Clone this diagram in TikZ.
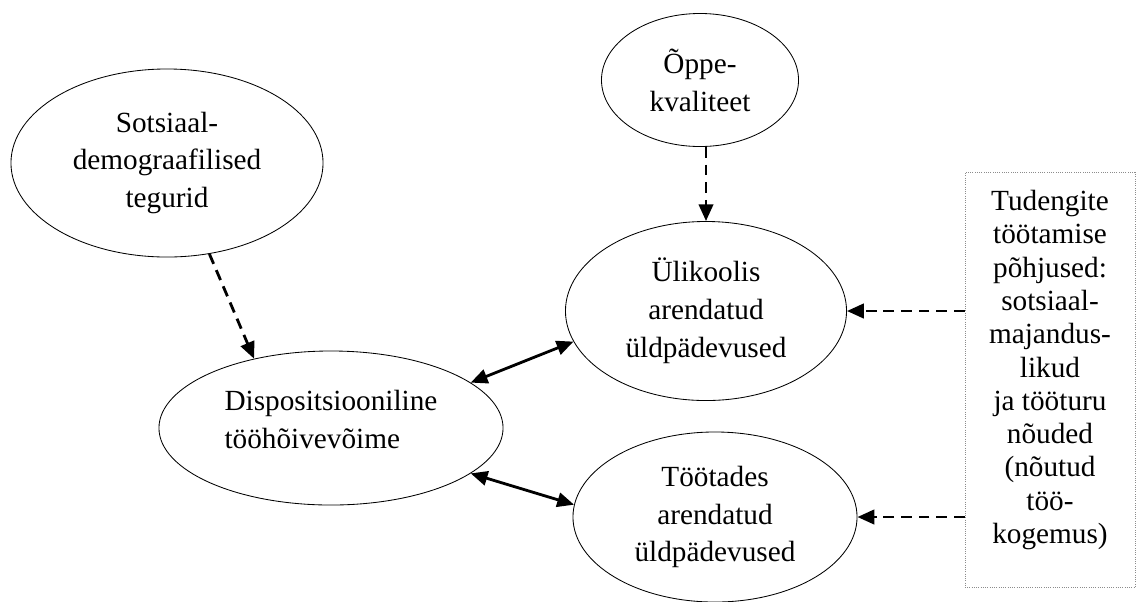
\documentclass[tikz,border=0pt]{standalone}
\usepackage{fontspec}
\setmainfont{Liberation Serif}
\usetikzlibrary{positioning,shapes.geometric,arrows.meta}
\definecolor{boxgray}{RGB}{140,140,140}

\begin{document}
\begin{tikzpicture}[
    x=0.025cm, y=-0.025cm,
    factor/.style={draw, ellipse, line width=0.6pt, inner sep=0pt, align=center,
        font=\fontsize{20.8}{26.9}\selectfont},
    reasonbox/.style={draw=boxgray, densely dotted, line width=0.6pt,
        minimum width=4.25cm, minimum height=10.375cm},
    reasontext/.style={align=center, inner sep=0pt,
        font=\fontsize{20.8}{23.7}\selectfont},
    influence/.style={line width=2pt, dash pattern=on 0.27cm off 0.17cm,
        -{Triangle[length=0.42cm,width=0.36cm]}},
    mutual/.style={line width=2pt,
        {Triangle[length=0.42cm,width=0.36cm]}-{Triangle[length=0.42cm,width=0.36cm]}}
]
\useasboundingbox (0,0) rectangle (1143,601);

% factors
\node[factor, minimum width=7.8cm, minimum height=4.7cm] (sotsiaal) at (167,163)
    {Sotsiaal-\\demograafilised\\tegurid};
\node[factor, minimum width=4.925cm, minimum height=3.325cm] (oppe) at (700,80)
    {Õppe-\\kvaliteet};
\node[factor, minimum width=8.6cm, minimum height=3.85cm, align=left] (disp) at (331,428)
    {Dispositsiooniline\\tööhõivevõime\\[-0.5cm]\mbox{}};
\node[factor, minimum width=7.025cm, minimum height=4.475cm] (ulikool) at (706,311)
    {Ülikoolis\\arendatud\\üldpädevused};
\node[factor, minimum width=7.1cm, minimum height=4.25cm] (tootades) at (715,517)
    {Töötades\\arendatud\\üldpädevused};

% reasons
\node[reasonbox] (reasons) at (1050,380) {};
\node[reasontext] (reasonstext) at (1050,370)
    {Tudengite\\töötamise\\põhjused:\\sotsiaal-\\majandus-\\likud\\ja tööturu\\nõuded\\(nõutud\\töö-\\kogemus)};

% connectors
\draw[influence] (sotsiaal.-65) -- (disp.138);
\draw[influence] (ulikool.north |- oppe.south) -- (ulikool.north);
\draw[influence] (reasons.west |- ulikool.east) -- (ulikool.east);
\draw[influence] (reasons.west |- tootades.east) -- (tootades.east);
\draw[mutual] (disp.18) -- (ulikool.193);
\draw[mutual] (disp.-18) -- (tootades.175);
\end{tikzpicture}
\end{document}
